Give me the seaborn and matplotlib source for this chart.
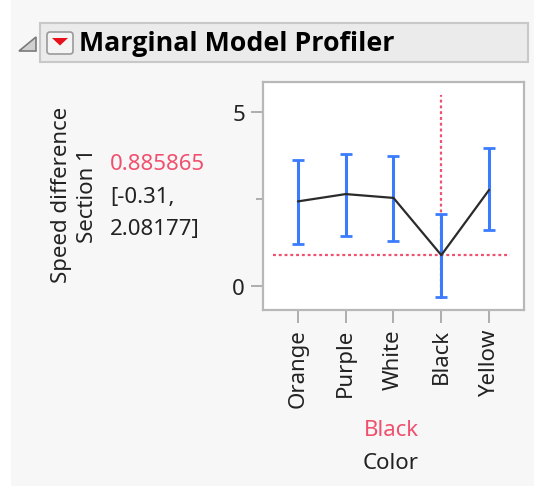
import matplotlib
matplotlib.use("Agg")
import matplotlib.pyplot as plt
from matplotlib.patches import Rectangle, Polygon, FancyBboxPatch
from matplotlib.ticker import FixedLocator
import seaborn as sns

# Marginal means of speed difference by color, with confidence limits
colors = ["Orange", "Purple", "White", "Black", "Yellow"]
means = [2.43, 2.64, 2.53, 0.885865, 2.76]
lower = [1.21, 1.44, 1.30, -0.31, 1.60]
upper = [3.62, 3.79, 3.73, 2.08177, 3.96]
current_level = "Black"
current_value = 0.885865

W, H = 534, 489
sns.set_theme(style="white")
plt.rcParams["font.family"] = ["Noto Sans", "DejaVu Sans"]

fig = plt.figure(figsize=(W / 100, H / 100), dpi=100, facecolor="white")


def fx(px):
    return px / W


def fy(py):
    return 1 - py / H


# report panel background
fig.patches.append(Rectangle((fx(11), fy(487)), fx(W) - fx(11), fy(0) - fy(487),
                             transform=fig.transFigure, facecolor="#f7f7f7",
                             edgecolor="none", zorder=-5))

# outline header bar
fig.patches.append(Rectangle((fx(40), fy(63)), fx(528) - fx(40), fy(24) - fy(63),
                             transform=fig.transFigure, facecolor="#ebebeb",
                             edgecolor="#c8c8c8", linewidth=1.5, zorder=-4))
# disclosure triangle
fig.patches.append(Polygon([(fx(19), fy(52)), (fx(36), fy(52)), (fx(36), fy(38))],
                           closed=True, transform=fig.transFigure,
                           facecolor="#d0d0d0", edgecolor="#7a7a7a",
                           linewidth=1.2, zorder=-3))
# red popup menu button
fig.patches.append(FancyBboxPatch((fx(47), fy(55)), fx(73) - fx(47), fy(33) - fy(55),
                                  boxstyle="round,pad=0,rounding_size=0.006",
                                  transform=fig.transFigure, facecolor="#f4f4f4",
                                  edgecolor="#9a9a9a", linewidth=1.2, zorder=-3))
fig.patches.append(Polygon([(fx(52), fy(39)), (fx(68), fy(39)), (fx(60), fy(46.5))],
                           closed=True, transform=fig.transFigure,
                           facecolor="#e8101c", edgecolor="none", zorder=-2))
fig.text(fx(79), fy(44), "Marginal Model Profiler", fontsize=19.3, fontweight="bold",
         family=["Open Sans", "DejaVu Sans"], ha="left", va="center", color="black")

# profiler axes
ax = fig.add_axes([fx(263), fy(311), fx(524) - fx(263), fy(83) - fy(311)])
ax.set_zorder(5)
ax.set_facecolor("white")

sns.pointplot(x=colors, y=means, order=colors, color="#2b2b2b", markers="",
              linewidth=1.6, errorbar=None, ax=ax, zorder=4)

pos = list(range(len(colors)))
yerr = [[m - lo for m, lo in zip(means, lower)],
        [hi - m for m, hi in zip(means, upper)]]
ax.errorbar(pos, means, yerr=yerr, fmt="none", ecolor="#3b7cff",
            elinewidth=2.2, capsize=4.5, capthick=2, zorder=3)

red = "#f0506e"
cur_idx = colors.index(current_level)
ax.axvline(cur_idx, ymin=0.048, ymax=0.943, color=red, linestyle=(0, (1.3, 1.3)),
           linewidth=1.6, zorder=2)
ax.axhline(current_value, xmin=0.038, xmax=0.946, color=red, linestyle=(0, (1.3, 1.3)),
           linewidth=1.6, zorder=2)

ax.set_xlim(-0.73, 4.73)
ax.set_ylim(-0.69, 5.86)
ax.set_yticks([0, 5])
ax.set_yticklabels(["0", "5"])
ax.yaxis.set_minor_locator(FixedLocator([2.5]))
ax.set_xticks(pos)
ax.set_xticklabels(colors, rotation=90, fontsize=16, color="#222222")
ax.set_xlabel("")
ax.set_ylabel("")
ax.tick_params(axis="y", which="major", length=9, width=1.3, color="#a8a8a8",
               labelsize=16, labelcolor="#222222", pad=4, left=True)
ax.tick_params(axis="y", which="minor", length=5, width=1.3, color="#a8a8a8", left=True)
ax.tick_params(axis="x", which="major", length=9, width=1.3, color="#a8a8a8",
               pad=4, bottom=True)
for s in ax.spines.values():
    s.set_visible(True)
    s.set_color("#b8b8b8")
    s.set_linewidth(1.6)

# response labels and current value readout
fs = 16
fig.text(fx(61), fy(195), "Speed difference", rotation=90, fontsize=fs,
         ha="center", va="center", color="#222222")
fig.text(fx(88), fy(196), "Section 1", rotation=90, fontsize=fs,
         ha="center", va="center", color="#222222")
fig.text(fx(110), fy(165), f"{current_value:g}", fontsize=fs, ha="left",
         va="center", color=red)
fig.text(fx(110), fy(197), f"[{lower[cur_idx]:g},", fontsize=fs, ha="left",
         va="center", color="#222222")
fig.text(fx(110), fy(229), f"{upper[cur_idx]:g}]", fontsize=fs, ha="left",
         va="center", color="#222222")

# factor labels
fig.text(fx(391), fy(431), current_level, fontsize=fs, ha="center", va="center",
         color=red)
fig.text(fx(391), fy(464), "Color", fontsize=fs, ha="center", va="center",
         color="#222222")

fig.savefig("out.png", dpi=100, facecolor=fig.get_facecolor())
